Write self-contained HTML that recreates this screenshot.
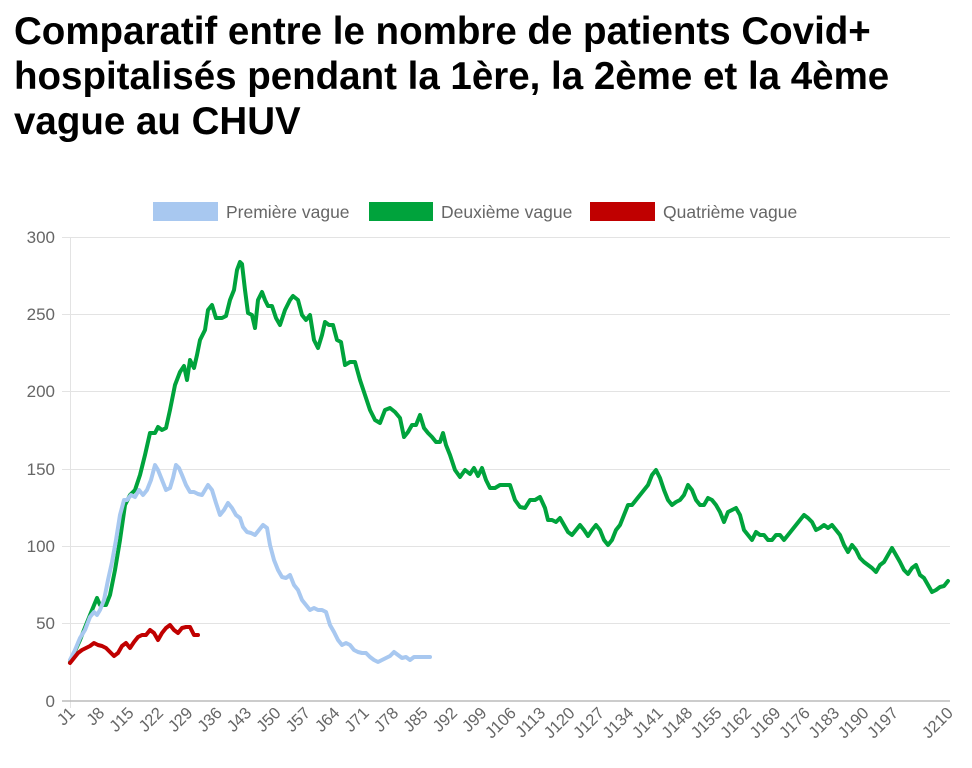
<!DOCTYPE html>
<html><head><meta charset="utf-8"><style>
body{margin:0;background:#fff;width:972px;height:768px;overflow:hidden;font-family:"Liberation Sans",sans-serif}
h1{position:absolute;left:14px;top:9px;margin:0;font-size:38.5px;line-height:45px;font-weight:bold;color:#000;letter-spacing:0px;white-space:nowrap}
</style></head><body>
<h1>Comparatif entre le nombre de patients Covid+<br>hospitalisés pendant la 1ère, la 2ème et la 4ème<br>vague au CHUV</h1>
<svg width="972" height="768" style="position:absolute;left:0;top:0" font-family="Liberation Sans, sans-serif">
<g stroke="#e3e3e3" stroke-width="1">
<line x1="62" x2="950" y1="237.5" y2="237.5"/><line x1="62" x2="950" y1="314.5" y2="314.5"/>
<line x1="62" x2="950" y1="391.5" y2="391.5"/><line x1="62" x2="950" y1="469.5" y2="469.5"/>
<line x1="62" x2="950" y1="546.5" y2="546.5"/><line x1="62" x2="950" y1="623.5" y2="623.5"/>
<line x1="70.5" x2="70.5" y1="237" y2="708"/>
</g>
<line x1="62" x2="950" y1="701" y2="701" stroke="#bbb" stroke-width="1.5"/>
<g fill="#666" font-size="17" text-anchor="end">
<text x="55" y="243">300</text><text x="55" y="320">250</text><text x="55" y="397">200</text>
<text x="55" y="475">150</text><text x="55" y="552">100</text><text x="55" y="629">50</text><text x="55" y="707">0</text>
</g>
<g fill="#666" font-size="16.5" text-anchor="end" id="xl"></g>
<g fill="none" stroke-width="4" stroke-linejoin="round" stroke-linecap="round">
<polyline stroke="#00a33c" points="70,662 80,640 90,615 97,598 100,605 106,605 110,595 115,570 120,540 125,505 130,495 135,490 140,475 145,455 150,433 155,433 158,427 162,430 166,428 170,410 175,385 180,372 184,366 187,380 190,360 194,368 197,355 200,340 205,330 208,310 212,305 216,318 222,318 226,316 230,300 234,290 237,270 240,262 242,264 245,290 248,313 252,315 255,328 258,300 262,292 265,300 268,306 272,306 276,318 280,325 285,310 290,300 293,296 298,300 302,315 306,320 310,315 314,340 318,348 322,335 325,322 329,325 333,325 337,340 341,342 345,365 350,362 355,362 360,380 365,395 370,410 375,420 380,423 385,410 390,408 395,412 400,418 404,437 408,432 412,425 416,425 420,415 424,428 428,433 432,437 436,442 440,442 443,433 446,445 450,455 455,470 460,477 465,470 470,474 474,468 478,476 482,468 486,480 490,488 495,488 500,485 505,485 510,485 515,500 520,507 525,508 530,500 535,500 540,497 545,508 548,520 552,520 556,522 560,518 564,525 568,532 572,535 576,530 580,525 584,530 588,536 592,530 596,525 600,530 604,540 608,545 612,540 616,530 620,525 624,515 628,505 632,505 636,500 640,495 644,490 648,485 652,475 656,470 660,478 664,490 668,500 672,505 676,502 680,500 684,495 688,485 692,490 696,500 700,505 704,505 708,498 712,500 716,505 720,512 724,522 728,512 732,510 736,508 740,515 744,530 748,535 752,540 756,532 760,535 764,535 768,540 772,540 776,535 780,535 784,540 788,535 792,530 796,525 800,520 804,515 808,518 812,522 816,530 820,528 824,525 828,528 832,525 836,530 840,535 844,545 848,552 852,545 856,550 860,558 864,562 868,565 872,568 876,572 880,565 884,562 888,555 892,548 896,555 900,562 904,570 908,574 912,568 916,565 920,575 924,578 928,585 932,592 936,590 940,587 944,586 948,581"/>
<polyline stroke="#a8c8f0" points="70,660 75,650 80,638 85,630 90,617 94,612 97,615 100,610 104,600 108,580 112,562 116,540 120,515 124,500 127,500 131,495 135,497 139,490 143,495 147,490 151,480 155,465 158,470 162,480 166,490 170,488 173,478 176,465 179,468 182,475 186,485 190,492 194,492 198,494 202,495 205,490 208,485 212,490 216,503 220,515 224,510 228,503 232,508 236,515 240,518 243,527 247,532 251,533 255,535 259,530 263,525 267,528 270,545 274,560 278,570 282,577 286,578 290,575 294,585 298,590 302,600 306,605 310,610 314,608 318,610 322,610 326,612 330,625 334,632 338,640 342,645 346,643 350,645 354,650 358,652 362,653 366,653 370,657 374,660 378,662 382,660 386,658 390,656 394,652 398,655 402,658 406,657 410,660 414,657 418,657 422,657 430,657"/>
<polyline stroke="#c00000" points="70,663 74,658 78,653 82,650 86,648 90,646 94,643 98,645 102,646 106,648 110,652 114,656 118,653 122,646 126,643 130,648 134,642 138,637 142,635 146,635 150,630 154,633 158,640 162,633 166,628 170,625 174,630 178,633 182,628 186,627 190,627 194,635 198,635"/>
</g>
<rect x="153" y="202" width="65" height="19" fill="#a8c8f0"/><text x="226" y="218" fill="#666" font-size="17.5">Première vague</text>
<rect x="369" y="202" width="64" height="19" fill="#00a33c"/><text x="441" y="218" fill="#666" font-size="17.5">Deuxième vague</text>
<rect x="590" y="202" width="65" height="19" fill="#c00000"/><text x="663" y="218" fill="#666" font-size="17.5">Quatrième vague</text>
</svg>
<script>
var g=document.getElementById('xl'),s='';
for(var d=1;d<=197;d+=7){var x=70+(d-1)*4.2;s+='<text transform="translate('+(x+6)+',714) rotate(-45)">J'+d+'</text>';}
s+='<text transform="translate(954,714) rotate(-45)">J210</text>';
g.innerHTML=s;
</script>
</body></html>
